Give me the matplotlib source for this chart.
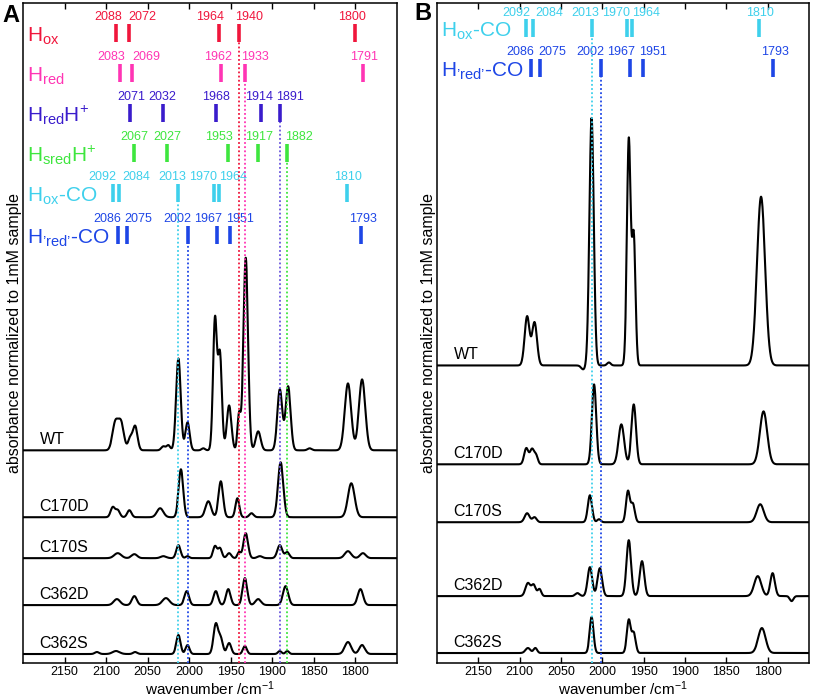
import numpy as np
import matplotlib
matplotlib.use('Agg')
import matplotlib.pyplot as plt

plt.rcParams['font.family'] = ['Liberation Sans', 'DejaVu Sans']
plt.rcParams['mathtext.fontset'] = 'custom'
plt.rcParams['mathtext.rm'] = 'Liberation Sans'
plt.rcParams['mathtext.it'] = 'Liberation Sans:italic'
plt.rcParams['mathtext.bf'] = 'Liberation Sans:bold'

# ---- band positions of the reference species (cm-1)
hox_bands = [2088, 2072, 1964, 1940, 1800]
hred_bands = [2083, 2069, 1962, 1933, 1791]
hredh_bands = [2071, 2032, 1968, 1914, 1891]
hsredh_bands = [2067, 2027, 1953, 1917, 1882]
hoxco_bands = [2092, 2084, 2013, 1970, 1964, 1810]
hredco_bands = [2086, 2075, 2002, 1967, 1951, 1793]

# where the numbers are written (cm-1), shifted to avoid overlaps
hox_lab = [2098, 2056, 1975, 1928, 1804]
hred_lab = [2094, 2052, 1965, 1921, 1790]
hredh_lab = [2070, 2032, 1968, 1916, 1879]
hsredh_lab = [2066, 2026, 1964, 1916, 1868]
hoxco_lab = [2104, 2064, 2021, 1983, 1947, 1809]
hredco_lab = [2099, 2061, 2014, 1977, 1939, 1791]

# ---- spectra, peaks as (wavenumber, height, fwhm)
samples = ['WT', 'C170D', 'C170S', 'C362D', 'C362S']

wt_a = [(2089, 27, 8), (2082, 27, 8), (2071, 12, 6), (2065, 24, 6.5), (2031, 4, 6),
        (2025, 5, 5), (2013, 92, 6.5), (2002, 28, 6), (1983, 2, 5), (1969, 131, 5.5),
        (1963, 95, 5.5), (1952, 45, 6.5), (1940, 36, 4.5), (1932, 193, 6.5), (1917, 19, 7),
        (1891, 61, 7), (1881, 64, 7), (1855, 2, 6), (1809, 67, 9), (1792, 71, 9)]
c170d_a = [(2092, 10, 6), (2086, 7, 6), (2072, 7, 6), (2035, 9, 9), (2010, 48, 6.5),
           (1977, 16, 8), (1962, 36, 6.5), (1942, 19, 5.5), (1925, 4, 6), (1890, 55, 7.5),
           (1805, 34, 9.5)]
c170s_a = [(2086, 5, 10), (2066, 4, 8), (2031, 2, 8), (2013, 13, 6), (2002, 2, 5),
           (1969, 12, 5.5), (1963, 10, 5.5), (1952, 5, 6), (1940, 6, 4.5), (1932, 25, 6.5),
           (1915, 2, 7), (1891, 13, 7), (1882, 6, 6), (1809, 7, 9), (1791, 5, 8)]
c362d_a = [(2087, 6, 9), (2066, 9, 7), (2028, 7, 10), (2003, 14, 6.5), (1968, 14, 6.5),
           (1953, 16, 6.5), (1933, 27, 6.5), (1917, 6, 8), (1884, 19, 7.5), (1794, 16, 7.5)]
c362s_a = [(2111, 2, 6), (2088, 3, 10), (2065, 2, 6), (2013, 19, 6), (2002, 9, 5.5),
           (1968, 30, 6.5), (1962, 15, 6), (1952, 11, 6), (1933, 8, 5.5), (1891, 3, 5),
           (1882, 3, 5), (1809, 12, 9), (1792, 9, 8)]

wt_b = [(2091, 49, 7), (2082, 43, 7), (2023, -4, 6), (2013, 248, 6.2), (1992, 3, 5),
        (1968, 226, 5.3), (1962, 128, 5), (1808, 169, 11.5)]
c170d_b = [(2092, 16, 6), (2085, 15, 6), (2080, 8, 5), (2010, 80, 6.2), (1977, 40, 8),
           (1962, 60, 6.5), (1805, 53, 10.5)]
c170s_b = [(2091, 9, 7), (2082, 5, 6), (2015, 27, 6), (2004, 3, 5), (1969, 31, 5.5),
           (1963, 18, 5.5), (1809, 18, 10)]
c362d_b = [(2090, 13, 7), (2083, 11, 6), (2076, 7, 5), (2030, 3, 6), (2015, 29, 6.5),
           (2003, 28, 6.5), (1968, 56, 6.5), (1952, 35, 6.5), (1812, 20, 10), (1794, 23, 6.5),
           (1771, -5, 5)]
c362s_b = [(2090, 5, 7), (2081, 5, 5), (2013, 36, 5.5), (1968, 33, 5.5), (1962, 20, 5.5),
           (1807, 25, 10.5)]

spectra_a = [wt_a, c170d_a, c170s_a, c362d_a, c362s_a]
spectra_b = [wt_b, c170d_b, c170s_b, c362d_b, c362s_b]
offsets_a = [213, 146, 105, 58, 9]
offsets_b = [298, 199, 141, 67, 10]

red = '#f0163c'
pink = '#ff35b4'
indigo = '#3a1ccc'
green = '#3ee63e'
cyan = '#3ed0ec'
blue = '#1e46e6'

wn = np.linspace(1750, 2200, 2000)


def spectrum(x, peaks):
    y = np.zeros_like(x)
    for c, h, w in peaks:
        y += h * np.exp(-4 * np.log(2) * ((x - c) / w) ** 2)
    return y


def setup(ax):
    ax.set_xlim(2200, 1750)
    ax.set_ylim(0, 661)
    ax.set_xticks([2150, 2100, 2050, 2000, 1950, 1900, 1850, 1800])
    ax.set_yticks([])
    ax.tick_params(axis='x', direction='in', top=True, length=4, width=1,
                   labelsize=9, pad=2.5)
    for s in ax.spines.values():
        s.set_linewidth(1.1)
    ax.set_xlabel('wavenumber /cm$^{-1}$', fontsize=11, labelpad=0.5)
    ax.set_ylabel('absorbance normalized to 1mM sample', fontsize=11.5, labelpad=1)


def band_row(ax, name, bands, labels, color, ytop, lw=2.6, gap=7):
    # ytop: data y of marker top; marker 18 high
    for b in bands:
        ax.plot([b, b], [ytop - 18, ytop], color=color, lw=lw, solid_capstyle='butt')
    for b, lx in zip(bands, labels):
        ax.text(lx, ytop + gap, str(b), color=color, fontsize=9, ha='center', va='center')
    ax.text(2195, ytop - 18, name, color=color, fontsize=15, ha='left', va='baseline')


def vline(ax, x, color, ytop):
    ax.plot([x, x], [0, ytop], color=color, lw=1.3, ls=(0, (1, 1.3)), zorder=3)


fig = plt.figure(figsize=(8.13, 6.97), dpi=100)
axA = fig.add_axes([23 / 813, 34 / 697, 374 / 813, 660 / 697])
axB = fig.add_axes([437 / 813, 34 / 697, 372 / 813, 660 / 697])

# ---- panel A
setup(axA)
for name, peaks, off in zip(samples, spectra_a, offsets_a):
    axA.plot(wn, off + spectrum(wn, peaks), color='k', lw=1.5, zorder=2)
    axA.text(2180, off + 11, name, fontsize=11.5, ha='left', va='center')

rows_a = [
    (r'H$_{\mathrm{ox}}$', hox_bands, hox_lab, red, 640),
    (r'H$_{\mathrm{red}}$', hred_bands, hred_lab, pink, 600),
    (r'H$_{\mathrm{red}}$H$^{+}$', hredh_bands, hredh_lab, indigo, 560),
    (r'H$_{\mathrm{sred}}$H$^{+}$', hsredh_bands, hsredh_lab, green, 520),
    (r'H$_{\mathrm{ox}}$-CO', hoxco_bands, hoxco_lab, cyan, 480),
    (r'H$_{\mathrm{’red’}}$-CO', hredco_bands, hredco_lab, blue, 438),
]
for name, bands, labs, col, yt in rows_a:
    band_row(axA, name, bands, labs, col, yt)

vline(axA, 1940, red, 622)
vline(axA, 1933, pink, 582)
vline(axA, 1891, '#6a55dd', 542)
vline(axA, 1882, green, 502)
vline(axA, 2013, cyan, 462)
vline(axA, 2002, blue, 420)

# ---- panel B
setup(axB)
for name, peaks, off in zip(samples, spectra_b, offsets_b):
    axB.plot(wn, off + spectrum(wn, peaks), color='k', lw=1.5, zorder=2)
    axB.text(2180, off + 11, name, fontsize=11.5, ha='left', va='center')

band_row(axB, r'H$_{\mathrm{ox}}$-CO', hoxco_bands, hoxco_lab, cyan, 645, gap=6)
band_row(axB, r'H$_{\mathrm{’red’}}$-CO', hredco_bands, hredco_lab, blue, 605)
vline(axB, 2013, cyan, 627)
vline(axB, 2002, blue, 587)

fig.text(11 / 813, 1 - 15 / 697, 'A', fontsize=17, fontweight='bold', ha='center', va='center')
fig.text(423 / 813, 1 - 14 / 697, 'B', fontsize=17, fontweight='bold', ha='center', va='center')

fig.savefig('out.png', dpi=100)
